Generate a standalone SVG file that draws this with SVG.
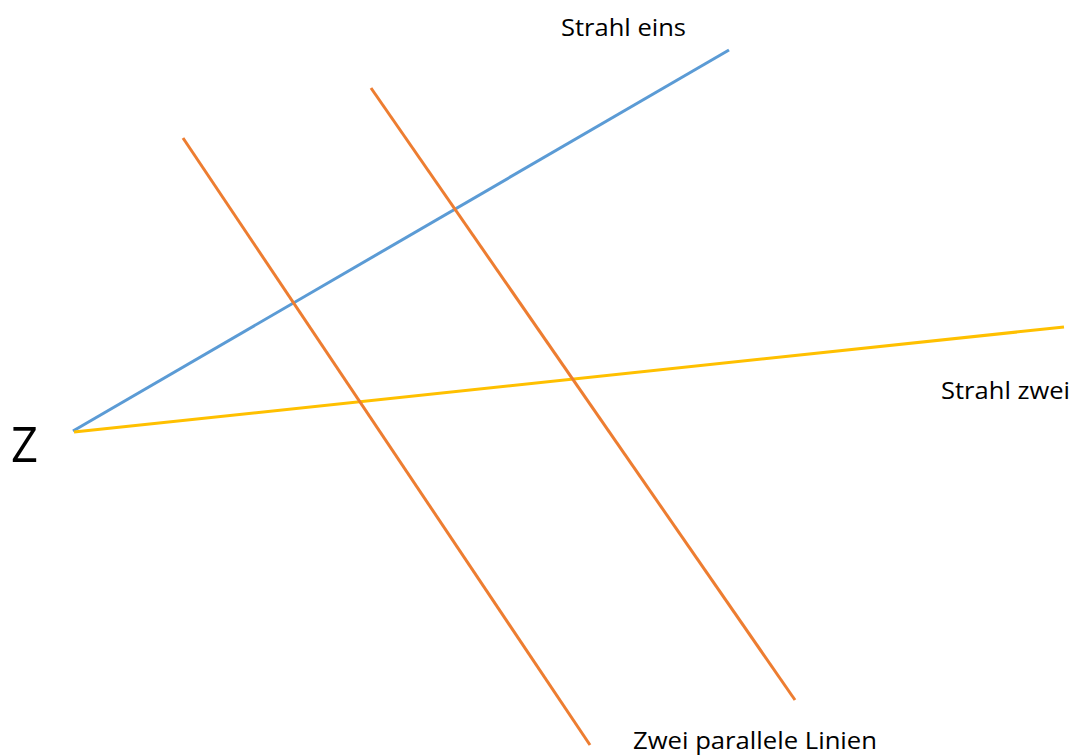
<svg xmlns="http://www.w3.org/2000/svg" width="1078" height="756" viewBox="0 0 1078 756">
<style>
.t{font-family:"Open Sans","Liberation Sans",sans-serif;fill:#000;font-size:24px}
.l{stroke-width:3;fill:none}
</style>
<rect width="1078" height="756" fill="#fff"/>
<g id="connectors">
<line id="strahl1" class="l" x1="73" y1="431" x2="729" y2="50" stroke="#5B9BD5"/>
<line id="strahl2" class="l" x1="74" y1="432" x2="1064" y2="327" stroke="#FFC000"/>
<line id="par1" class="l" x1="183" y1="138" x2="590" y2="745" stroke="#ED7D31"/>
<line id="par2" class="l" x1="371" y1="88" x2="795" y2="700" stroke="#ED7D31"/>
</g>
<g id="label-z"><text class="t" x="11" y="462" style="font-size:50px" textLength="27" lengthAdjust="spacingAndGlyphs">Z</text></g>
<g id="label-eins"><text class="t" x="561" y="36" textLength="125" lengthAdjust="spacingAndGlyphs">Strahl eins</text></g>
<g id="label-zwei"><text class="t" x="941" y="399" textLength="129" lengthAdjust="spacingAndGlyphs">Strahl zwei</text></g>
<g id="label-parallel"><text class="t" x="633" y="749" textLength="244" lengthAdjust="spacingAndGlyphs">Zwei parallele Linien</text></g>
</svg>
